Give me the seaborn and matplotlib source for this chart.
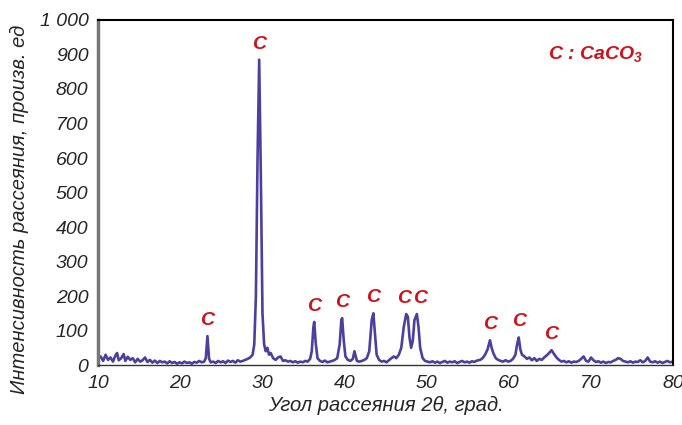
import numpy as np
import pandas as pd
import matplotlib
matplotlib.use("Agg")
import matplotlib.pyplot as plt
import seaborn as sns

# XRD pattern (2theta, intensity)
two_theta = [10.0, 10.3, 10.6, 10.9, 11.2, 11.5, 11.8, 12.1, 12.3, 12.5, 12.8, 13.1, 13.3, 13.6, 13.9,
             14.2, 14.5, 14.8, 15.1, 15.4, 15.7, 16.0, 16.3, 16.6, 16.9, 17.2, 17.5, 17.8, 18.1, 18.4,
             18.7, 19.0, 19.3, 19.6, 19.9, 20.2, 20.5, 20.8, 21.1, 21.4, 21.7, 22.0, 22.3, 22.6, 22.9,
             23.1, 23.3, 23.5, 23.7, 24.0, 24.3, 24.6, 24.9, 25.2, 25.5, 25.8, 26.1, 26.4, 26.7, 27.0,
             27.3, 27.6, 27.9, 28.2, 28.5, 28.8, 29.0, 29.2, 29.4, 29.6, 29.8, 30.0, 30.2, 30.4, 30.6,
             30.8, 31.0, 31.3, 31.6, 31.9, 32.2, 32.5, 32.8, 33.1, 33.4, 33.7, 34.0, 34.3, 34.6, 34.9,
             35.2, 35.5, 35.8, 36.0, 36.2, 36.3, 36.5, 36.7, 37.0, 37.3, 37.6, 37.9, 38.2, 38.5, 38.8,
             39.1, 39.4, 39.6, 39.7, 39.9, 40.1, 40.4, 40.7, 41.0, 41.2, 41.5, 41.8, 42.1, 42.4, 42.7,
             43.0, 43.3, 43.5, 43.7, 43.9, 44.2, 44.5, 44.8, 45.1, 45.4, 45.7, 46.0, 46.3, 46.6, 46.9,
             47.2, 47.5, 47.7, 47.9, 48.1, 48.3, 48.5, 48.8, 49.0, 49.2, 49.5, 49.8, 50.1, 50.4, 50.7,
             51.0, 51.3, 51.6, 51.9, 52.2, 52.5, 52.8, 53.1, 53.4, 53.7, 54.0, 54.3, 54.6, 54.9, 55.2,
             55.5, 55.8, 56.1, 56.5, 56.8, 57.1, 57.4, 57.7, 57.9, 58.1, 58.4, 58.7, 59.0, 59.3, 59.6,
             59.9, 60.2, 60.5, 60.8, 61.0, 61.2, 61.4, 61.6, 61.9, 62.2, 62.5, 62.8, 63.1, 63.4, 63.7,
             64.0, 64.3, 64.6, 64.9, 65.2, 65.5, 65.8, 66.1, 66.4, 66.7, 67.0, 67.3, 67.6, 67.9, 68.2,
             68.5, 68.8, 69.1, 69.4, 69.7, 70.0, 70.3, 70.6, 70.9, 71.2, 71.5, 71.8, 72.1, 72.4, 72.7,
             73.0, 73.3, 73.6, 73.9, 74.2, 74.5, 74.8, 75.1, 75.4, 75.7, 76.0, 76.3, 76.6, 76.9, 77.2,
             77.5, 77.8, 78.1, 78.4, 78.7, 79.0, 79.3, 79.6, 80.0]
intensity = [18, 25, 12, 30, 15, 22, 10, 28, 35, 14, 20, 32, 12, 24, 15,
             20, 8, 18, 10, 14, 22, 9, 15, 7, 13, 6, 12, 8, 10, 5,
             11, 6, 9, 4, 8, 5, 10, 6, 8, 4, 9, 7, 12, 8, 10,
             20, 84, 18, 8, 10, 6, 12, 8, 11, 6, 13, 9, 12, 7, 14,
             10, 12, 15, 18, 22, 30, 60, 200, 600, 885, 550, 150, 60, 40, 50,
             30, 35, 20, 15, 22, 25, 12, 14, 10, 12, 8, 11, 7, 10, 8,
             12, 10, 18, 40, 110, 125, 60, 20, 12, 9, 13, 8, 10, 12, 15,
             20, 60, 130, 136, 70, 25, 15, 12, 18, 40, 12, 10, 12, 15, 20,
             40, 130, 150, 90, 30, 15, 10, 12, 8, 14, 20, 25, 20, 30, 50,
             110, 148, 140, 80, 50, 70, 130, 148, 110, 50, 20, 12, 10, 8, 11,
             7, 10, 6, 9, 12, 7, 10, 8, 11, 6, 9, 12, 8, 10, 7,
             11, 9, 13, 15, 20, 30, 45, 72, 50, 35, 20, 15, 12, 10, 14,
             10, 12, 18, 30, 60, 80, 45, 30, 25, 18, 22, 14, 20, 12, 18,
             15, 22, 28, 35, 43, 32, 22, 15, 10, 12, 8, 11, 7, 10, 9,
             12, 18, 25, 12, 10, 22, 14, 9, 11, 7, 10, 6, 9, 8, 12,
             15, 20, 18, 12, 10, 8, 11, 7, 10, 9, 14, 8, 12, 22, 10,
             8, 11, 7, 10, 6, 9, 12, 8, 10]

# peak positions labelled "C" (calcite) and their heights
peak_pos = [23.3, 29.6, 36.3, 39.7, 43.5, 47.5, 48.8, 57.7, 61.2, 65.2]
peak_height = [84, 885, 125, 136, 150, 148, 148, 72, 80, 43]

x_ticks = [10, 20, 30, 40, 50, 60, 70, 80]
y_ticks = [0, 100, 200, 300, 400, 500, 600, 700, 800, 900, 1000]
y_tick_labels = ["0", "100", "200", "300", "400", "500", "600", "700", "800", "900", "1 000"]

sns.set_style("white")
plt.rcParams['font.family'] = ['Liberation Sans', 'DejaVu Sans']
plt.rcParams['mathtext.fontset'] = 'custom'
plt.rcParams['mathtext.rm'] = 'Liberation Sans:italic:bold'
plt.rcParams['mathtext.it'] = 'Liberation Sans:italic:bold'

df = pd.DataFrame({'two_theta': two_theta, 'intensity': intensity})

fig = plt.figure(figsize=(6.82, 4.25), dpi=100)
ax = fig.add_axes([0.144, 0.141, 0.843, 0.812])

sns.lineplot(data=df, x='two_theta', y='intensity', ax=ax, color='#4e3f9f',
             lw=1.9, sort=False, estimator=None)

red = '#d0101a'
for i, (xp, yp) in enumerate(zip(peak_pos, peak_height)):
    # the doublet near 48 degrees: spread its two labels a little
    nudge = -0.2 if i == 5 else (0.35 if i == 6 else 0.0)
    ax.text(xp + nudge, yp + 45, 'C', color=red, fontsize=14, fontweight='bold',
            fontstyle='italic', ha='center', va='center')

ax.text(64.8, 900, 'C : CaCO$_3$', color=red, fontsize=14, fontweight='bold',
        fontstyle='italic', ha='left', va='center')

ax.set_xlim(10, 80)
ax.set_ylim(0, 1000)
ax.set_xticks(x_ticks)
ax.set_xticklabels([str(t) for t in x_ticks], fontsize=14, fontstyle='italic')
ax.set_yticks(y_ticks)
ax.set_yticklabels(y_tick_labels, fontsize=14, fontstyle='italic')
ax.tick_params(length=0, pad=7)

ax.set_xlabel('Угол рассеяния 2\u03b8, град.', fontsize=14.5, fontstyle='italic', labelpad=3)
ax.set_ylabel('Интенсивность рассеяния, произв. ед', fontsize=14.5, fontstyle='italic')
ax.yaxis.set_label_coords(-0.12, 0.45)

for side in ['top', 'right']:
    ax.spines[side].set_color('black')
    ax.spines[side].set_linewidth(1.5)
ax.spines['left'].set_color('#777777')
ax.spines['left'].set_linewidth(2.5)
ax.spines['bottom'].set_color('#333333')
ax.spines['bottom'].set_linewidth(1.0)

fig.savefig('out.png', dpi=100)
